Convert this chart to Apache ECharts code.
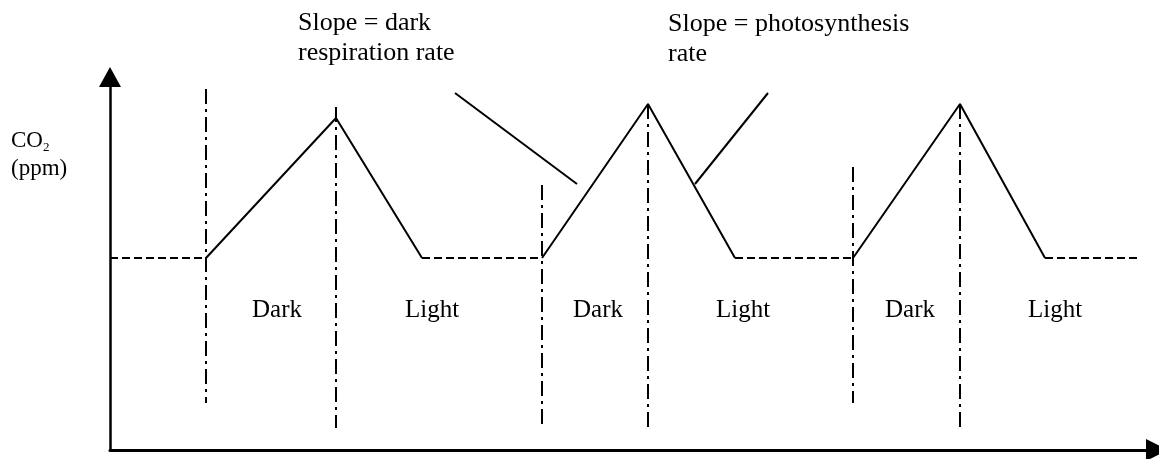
<!DOCTYPE html>
<html>
<head>
<meta charset="utf-8">
<style>
html,body{margin:0;padding:0;background:#fff;}
#chart{width:1159px;height:459px;}
</style>
</head>
<body>
<div id="chart"></div>
<script src="https://cdn.jsdelivr.net/npm/echarts@6/dist/echarts.min.js"></script>
<script>
// schematic units: time along x, CO2 level along y (no ticks shown)
var baseLevel = 19.2;
// dashed flat parts (light, CO2 at compensation level)
var flatStart = [0, 31.2, 62.5, 93.5];
var flatEnd = [9.6, 43.2, 74.3, 103.0];
// solid triangles: rise in the dark, fall in the light
var riseStart = [9.6, 43.2, 74.3];
var peakTime = [22.6, 53.8, 85.0];
var peakLevel = [33.2, 34.6, 34.6];
var fallEnd = [31.2, 62.5, 93.5];
// dash-dot switch markers
var markerTime = [9.6, 22.6, 43.2, 53.8, 74.3, 85.0];
var markerTop = [36.1, 34.3, 26.5, 34.6, 28.3, 34.6];
var markerBottom = [4.7, 2.2, 2.2, 2.2, 4.7, 2.2];
// pointer lines to the slopes
var pointerFrom = [[34.5, 35.7], [65.8, 35.7]];
var pointerTo = [[46.7, 26.6], [58.5, 26.6]];
var periodNames = ['Dark', 'Light', 'Dark', 'Light', 'Dark', 'Light'];

var chart = echarts.init(document.getElementById('chart'));
var series = [];
var i;

for (i = 0; i < flatStart.length; i++) {
    series.push({
        type: 'line', symbol: 'none', silent: true,
        data: [[flatStart[i], baseLevel], [flatEnd[i], baseLevel]],
        lineStyle: {color: '#000', width: 2, type: [8, 4]}
    });
}
for (i = 0; i < riseStart.length; i++) {
    series.push({
        type: 'line', symbol: 'none', silent: true,
        data: [[riseStart[i], baseLevel], [peakTime[i], peakLevel[i]], [fallEnd[i], baseLevel]],
        lineStyle: {color: '#000', width: 2}
    });
}
for (i = 0; i < markerTime.length; i++) {
    series.push({
        type: 'line', symbol: 'none', silent: true,
        data: [[markerTime[i], markerTop[i]], [markerTime[i], markerBottom[i]]],
        lineStyle: {color: '#000', width: 2, type: [15, 5, 3, 5]}
    });
}
for (i = 0; i < pointerFrom.length; i++) {
    series.push({
        type: 'line', symbol: 'none', silent: true,
        data: [pointerFrom[i], pointerTo[i]],
        lineStyle: {color: '#000', width: 2}
    });
}

var serif = '"Liberation Serif", "Times New Roman", serif';
function txt(x, y, s, size, lh) {
    return {
        type: 'text', x: x, y: y, silent: true,
        style: {
            text: s, font: size + 'px ' + serif, fill: '#000',
            lineHeight: lh || size, align: 'left', verticalAlign: 'top',
            textAlign: 'left', textVerticalAlign: 'top'
        }
    };
}
var labelLeft = [252, 405, 573, 716, 885, 1028];
var graphics = [
    txt(298, 8, 'Slope = dark\nrespiration rate', 26, 30),
    txt(668, 9, 'Slope = photosynthesis\nrate', 26, 30),
    txt(11, 129, 'CO', 23),
    txt(43, 141, '2', 13),
    txt(11, 157, '(ppm)', 23)
];
for (i = 0; i < periodNames.length; i++) {
    graphics.push(txt(labelLeft[i], 298, periodNames[i], 25));
}

chart.setOption({
    animation: false,
    backgroundColor: '#fff',
    grid: {left: 110, right: 2, top: 77, bottom: 9},
    xAxis: {
        type: 'value', min: 0, max: 104.7,
        axisLine: {show: true, onZero: false, symbol: ['none', 'triangle'], symbolSize: [22, 22],
            lineStyle: {color: '#000', width: 3}},
        axisTick: {show: false}, axisLabel: {show: false}, splitLine: {show: false}
    },
    yAxis: {
        type: 'value', min: 0, max: 37.3,
        axisLine: {show: true, onZero: false, symbol: ['none', 'triangle'], symbolSize: [22, 20],
            lineStyle: {color: '#000', width: 2.5}},
        axisTick: {show: false}, axisLabel: {show: false}, splitLine: {show: false}
    },
    graphic: graphics,
    series: series
});
</script>
</body>
</html>
